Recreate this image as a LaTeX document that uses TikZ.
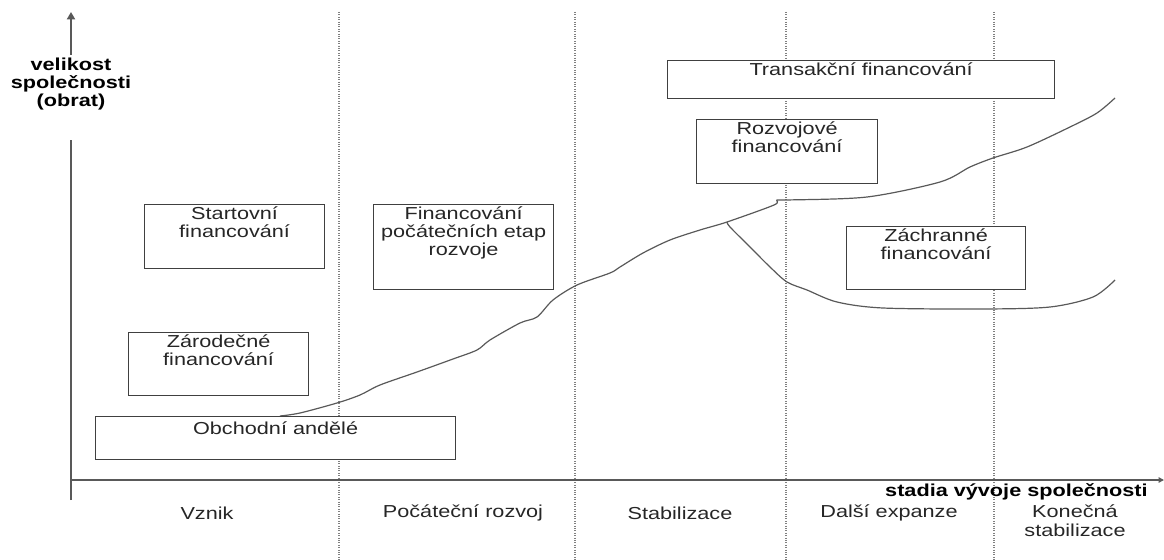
\documentclass[tikz,border=0pt]{standalone}
\usepackage{fontspec}
\setmainfont{Liberation Sans}[FakeStretch=1.25]
\usetikzlibrary{arrows.meta}

\begin{document}
\begin{tikzpicture}[x=0.75pt,y=-0.75pt,>={Triangle[length=5.5pt,width=6pt]},
  axis/.style={line width=1.4pt,black!65},
  stageline/.style={densely dotted,line width=0.8pt,black!50},
  finbox/.style={draw=black!75,fill=white,line width=0.9pt,anchor=north west,inner sep=0pt},
  boxtext/.style={anchor=north,align=center,inner sep=0pt,text=black!85,font=\fontsize{13}{13.5}\selectfont},
  stagetext/.style={align=center,inner sep=0pt,text=black!85,font=\fontsize{13}{14.5}\selectfont},
  axislabel/.style={align=center,inner sep=0pt,font=\bfseries\fontsize{13}{13.5}\selectfont},
  growth/.style={black!65,line width=0.9pt}]

  \useasboundingbox (0,0) rectangle (1164,560);

  % borders between the stages
  \foreach \x/\n in {339/b1,575/b2,786/b3,994/b4}{
    \coordinate (\n top) at (\x,12);
    \coordinate (\n bot) at (\x,560);
    \draw[stageline] (\n top) -- (\n bot);
  }

  % axes
  \coordinate (O) at (71,480);
  \coordinate (ytop) at (71,12);
  \coordinate (yhigh) at (71,55);
  \coordinate (ylow) at (71,140);
  \coordinate (ybot) at (71,500);
  \coordinate (xend) at (1164,480);
  \draw[axis] (ybot) -- (ylow);
  \draw[axis,->] (yhigh) -- (ytop);
  \draw[axis,->,>={Triangle[length=4pt,width=4pt]}] (O) -- (xend);

  \node[axislabel,anchor=north] (ylab) at (71,58) {velikost\\společnosti\\(obrat)};
  \node[axislabel,anchor=east] (xlab) at (1148,492) {stadia vývoje společnosti};

  % stages
  \node[stagetext] (vznik) at (207,513) {Vznik};
  \node[stagetext] (pocatek) at (463,513) {Počáteční rozvoj};
  \node[stagetext] (stab) at (680,513) {Stabilizace};
  \node[stagetext] (expanze) at (889,513) {Další expanze};
  \node[stagetext] (konec) at (1075,521) {Konečná\\stabilizace};

  % growth of the company
  \draw[growth] plot[smooth,tension=0.5] coordinates {(280,416) (300,413) (337,403)
    (360,395) (380,385) (417,372) (453,359) (477,350) (490,340) (520,323) (537,317)
    (553,300) (577,285) (610,273) (620,267) (643,253) (670,240) (700,230) (727,222)
    (774,205) (777,200) (787,200) (867,197) (940,182) (970,167) (993,158) (1027,147)
    (1070,127) (1097,113) (1115,98)};
  \draw[growth] plot[smooth,tension=0.5] coordinates {(727,222) (730,227) (750,247)
    (770,267) (787,282) (807,290) (837,302) (883,308) (983,309) (1050,307)
    (1093,297) (1115,280)};

  % kinds of financing
  \node[finbox,minimum width=290.25pt,minimum height=28.5pt] (trans) at (667,60) {};
  \node[boxtext] (transt) at ([yshift=-2pt]trans.north) {Transakční financování};

  \node[finbox,minimum width=135.75pt,minimum height=48pt] (rozv) at (696,119) {};
  \node[boxtext] (rozvt) at ([yshift=-2pt]rozv.north) {Rozvojové\\financování};

  \node[finbox,minimum width=134.25pt,minimum height=47.25pt] (zach) at (846,226) {};
  \node[boxtext] (zacht) at ([yshift=-2pt]zach.north) {Záchranné\\financování};

  \node[finbox,minimum width=135pt,minimum height=48pt] (start) at (144,204) {};
  \node[boxtext] (startt) at ([yshift=-2pt]start.north) {Startovní\\financování};

  \node[finbox,minimum width=135pt,minimum height=63.75pt] (etap) at (373,204) {};
  \node[boxtext] (etapt) at ([yshift=-2pt]etap.north) {Financování\\počátečních etap\\rozvoje};

  \node[finbox,minimum width=135pt,minimum height=47.25pt] (zarod) at (128,332) {};
  \node[boxtext] (zarodt) at ([yshift=-2pt]zarod.north) {Zárodečné\\financování};

  \node[finbox,minimum width=270pt,minimum height=32.25pt] (obch) at (95,416) {};
  \node[boxtext] (obcht) at ([yshift=-4pt]obch.north) {Obchodní andělé};

\end{tikzpicture}
\end{document}
